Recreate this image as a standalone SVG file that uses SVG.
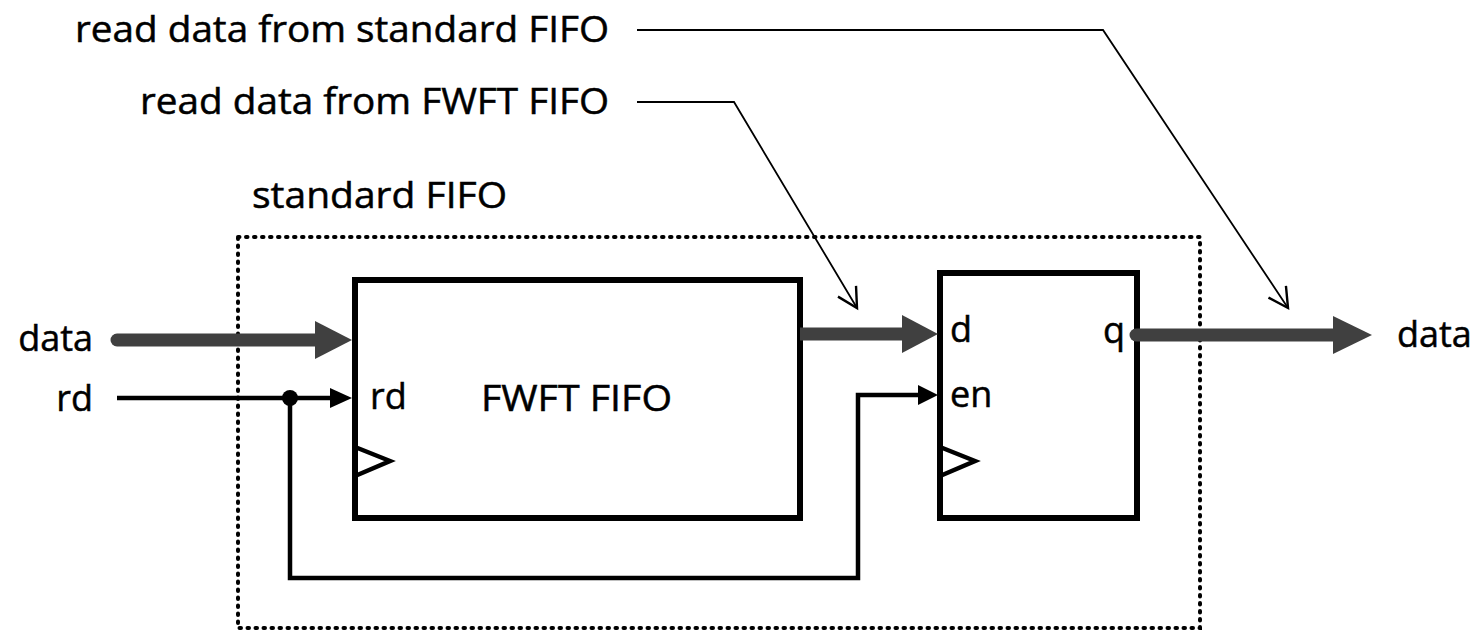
<svg xmlns="http://www.w3.org/2000/svg" width="1483" height="631" viewBox="0 0 1483 631">
<defs>
<style>
text{font-family:"Open Sans","Liberation Sans",sans-serif;font-size:36px;fill:#000;stroke:#000;stroke-width:0.5}
.box{fill:#fff;stroke:#000;stroke-width:6}
.bus{stroke:#404040;stroke-width:13;stroke-linecap:round;fill:none}
.head{fill:#404040}
.sig{stroke:#000;stroke-width:4.5;fill:none}
.lead{stroke:#000;stroke-width:1.8;fill:none}
.dot{fill:none;stroke:#000;stroke-width:4;stroke-dasharray:1.5 6.5;stroke-linecap:round}
</style>
<marker id="v" markerUnits="userSpaceOnUse" markerWidth="24" markerHeight="24" refX="14" refY="8" viewBox="0 0 16 16" orient="auto">
<path d="M1,1 L14,8 L1,15" fill="none" stroke="#000" stroke-width="1.6"/>
</marker>
</defs>
<g id="boundary">
<rect class="dot" x="238" y="237" width="962" height="391"/>
<text x="252" y="208" textLength="255" lengthAdjust="spacingAndGlyphs">standard FIFO</text>
</g>
<g id="fwft">
<rect class="box" x="355" y="280" width="445" height="238"/>
<polyline points="355,447 390,461 355,476" class="sig"/>
<text x="370" y="409">rd</text>
<text x="481" y="411" textLength="191" lengthAdjust="spacingAndGlyphs">FWFT FIFO</text>
</g>
<g id="reg">
<rect class="box" x="940" y="273" width="197" height="245"/>
<polyline points="940,447 975,461 940,476" class="sig"/>
<text x="950" y="342">d</text>
<text x="1103" y="343">q</text>
<text x="950" y="407">en</text>
</g>
<g id="labels">
<text x="93" y="351" text-anchor="end">data</text>
<text x="93" y="411" text-anchor="end">rd</text>
<text x="1397" y="347">data</text>
<text x="75" y="42" textLength="534" lengthAdjust="spacingAndGlyphs">read data from standard FIFO</text>
<text x="140" y="114" textLength="469" lengthAdjust="spacingAndGlyphs">read data from FWFT FIFO</text>
</g>
<g id="connectors">
<line class="bus" x1="117" y1="340" x2="318" y2="340"/>
<polygon class="head" points="315,321 352,340 315,359"/>
<line class="bus" x1="800" y1="334" x2="905" y2="334" style="stroke-linecap:butt"/>
<polygon class="head" points="902,315 938,334 902,353"/>
<line class="bus" x1="1136" y1="335" x2="1336" y2="335"/>
<polygon class="head" points="1333,316 1372,335 1333,354"/>
<line class="sig" x1="117" y1="398" x2="334" y2="398"/>
<polygon points="330,388 352,398 330,408" fill="#000"/>
<circle cx="290" cy="398" r="8" fill="#000"/>
<path class="sig" d="M290,398 V578 H858 V395 H920"/>
<polygon points="918,385 938,395 918,405" fill="#000"/>
<path class="lead" d="M637,30 H1103 L1288,308" marker-end="url(#v)"/>
<path class="lead" d="M637,102 H734 L857,308" marker-end="url(#v)"/>
</g>
</svg>
